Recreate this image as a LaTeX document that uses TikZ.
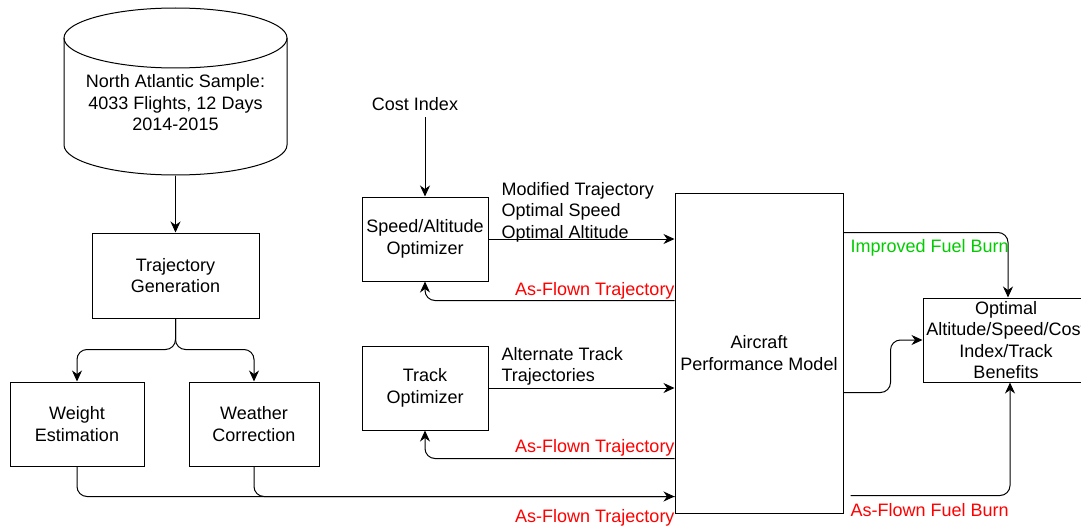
\documentclass[tikz,border=0pt]{standalone}
\usepackage{fontspec}
\setmainfont{Liberation Sans}
\usetikzlibrary{arrows.meta,calc}
\definecolor{myred}{RGB}{255,0,0}
\definecolor{mygreen}{RGB}{0,204,0}
\begin{document}
\begin{tikzpicture}[x=1pt,y=-1pt,
  line width=1pt,
  every node/.style={font=\fontsize{18}{21.5}\selectfont, inner sep=0pt},
  box/.style={draw, align=center, line width=1pt},
  arr/.style={-{Stealth[length=11pt,width=10pt,inset=3.5pt]}},
  rc/.style={rounded corners=10pt},
  lbl/.style={align=left},
  redlbl/.style={text=myred},
  greenlbl/.style={text=mygreen}]
\useasboundingbox (0,0) rectangle (1081,527);
\clip (0,0) rectangle (1081,527);

% cylinder
\node (db) [minimum width=223pt, minimum height=167pt] at (175.5,91.5) {};
\draw (175.5,38) ellipse [x radius=111.5pt, y radius=30pt];
\draw (64,38) -- (64,145) arc[start angle=180, end angle=360, x radius=111.5pt, y radius=30pt] -- (287,38);
\node (dbtext) [align=center] at (175.5,103) {North Atlantic Sample:\\4033 Flights, 12 Days\\2014-2015};

% boxes
\node (traj) [box, minimum width=167pt, minimum height=85pt] at (175.5,275.5) {Trajectory\\Generation};
\node (weight) [box, minimum width=134pt, minimum height=84pt] at (77,424) {Weight\\Estimation};
\node (weather) [box, minimum width=130pt, minimum height=84pt] at (254,424) {Weather\\Correction};
\node (sao) [box, minimum width=126pt, minimum height=84pt] at (425,239) {Speed/Altitude\\Optimizer};
\node (track) [box, minimum width=126pt, minimum height=84pt] at (425,388) {Track\\Optimizer};
\node (apm) [box, minimum width=168pt, minimum height=320pt] at (759,353) {Aircraft\\Performance Model};
\node (opt) [box, minimum width=166pt, minimum height=84pt] at (1006,340) {Optimal\\Altitude/Speed/Cost\\Index/Track\\Benefits};

% text labels
\node (ci) [anchor=base] at (415,110.5) {Cost Index};
\node (modlbl) [lbl, anchor=north west] at (501,181.5) {Modified Trajectory\\Optimal Speed\\Optimal Altitude};
\node (altlbl) [lbl, anchor=north west] at (501,346.5) {Alternate Track\\Trajectories};
\node (af1) [redlbl, anchor=base east] at (675,295.5) {As-Flown Trajectory};
\node (af2) [redlbl, anchor=base east] at (675,452.5) {As-Flown Trajectory};
\node (af3) [redlbl, anchor=base east] at (675,522.5) {As-Flown Trajectory};
\node (ifb) [greenlbl, anchor=base west] at (850,252.5) {Improved Fuel Burn};
\node (afb) [redlbl, anchor=base west] at (850,516.5) {As-Flown Fuel Burn};

% connectors
\draw[arr] (db.south) -- (traj.north);
\draw[arr, rc] (traj.south) |- ($(weight.north)+(0,-32)$) -- (weight.north);
\draw[arr, rc] (traj.south) |- ($(weather.north)+(0,-32)$) -- (weather.north);
\draw[arr, rc] (weight.south) |- ([yshift=17pt]apm.south west);
\draw[rc] (weather.south) |- ([yshift=17pt]apm.south west);
\draw[arr] ($(sao.north |- ci.south)+(0,6)$) -- (sao.north);
\draw[arr] (sao.east) -- (sao.east -| apm.west);
\draw[arr, rc] ([yshift=-108pt]apm.north west) -| (sao.south);
\draw[arr] (track.east) -- (track.east -| apm.west);
\draw[arr, rc] ([yshift=-266pt]apm.north west) -| (track.south);
\draw[arr, rc] ([yshift=-40pt]apm.north east) -| ([xshift=2pt]opt.north);
\draw[arr, rc] ([yshift=-200pt]apm.north east) -- ++(47,0) |- (opt.west);
\draw[arr, rc] ([xshift=7pt,yshift=18pt]apm.south east) -| ([xshift=4pt]opt.south);
\end{tikzpicture}
\end{document}
